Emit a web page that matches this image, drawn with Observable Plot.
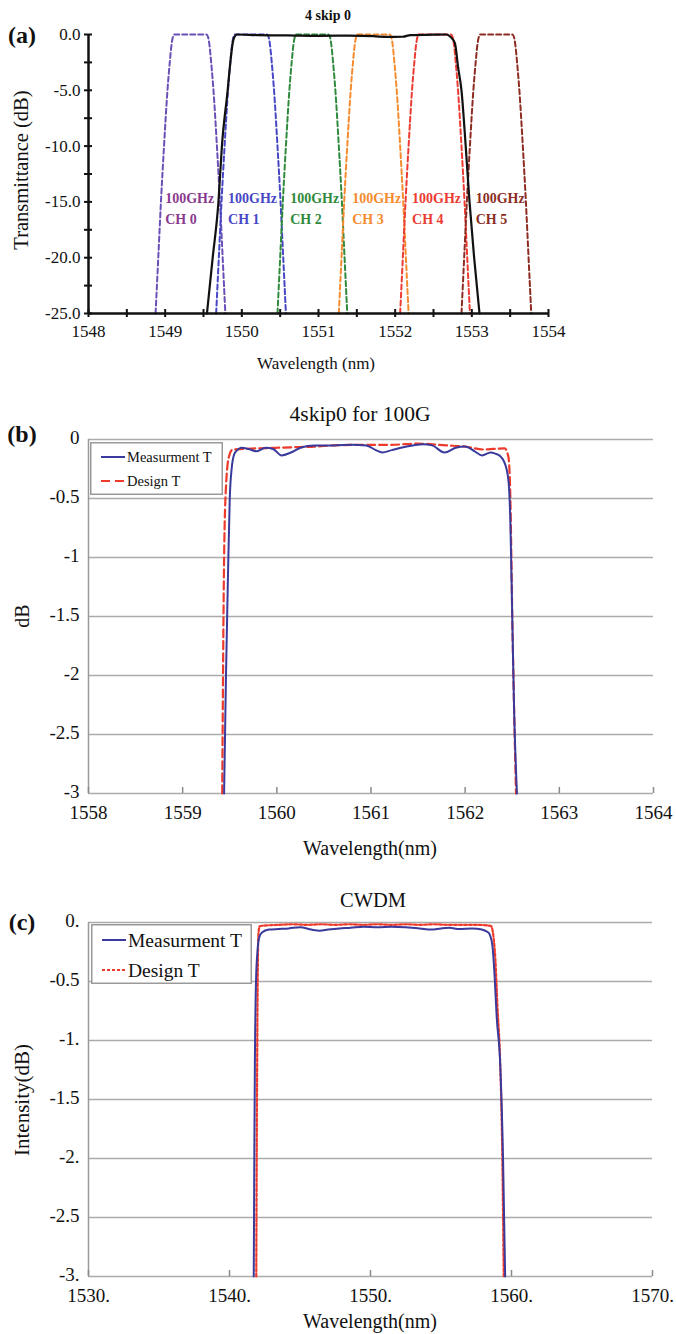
<!DOCTYPE html>
<html><head><meta charset="utf-8">
<script src="https://cdn.jsdelivr.net/npm/d3@7"></script>
<script src="https://cdn.jsdelivr.net/npm/@observablehq/plot@0.6"></script>
<style>
body{margin:0;background:#fff;}
#root{position:relative;width:676px;height:1334px;overflow:hidden;font-family:"Liberation Serif","Times New Roman",serif;color:#111;}
#root svg, #root svg text{font-family:"Liberation Serif","Times New Roman",serif !important;}
.abs{position:absolute;white-space:nowrap;line-height:1;}
.abs svg{display:block;}
</style></head>
<body><div id="root"></div>
<script>
// ---------- Panel (a) data ----------
const xTicksA = [1548,1548.5,1549,1549.5,1550,1550.5,1551,1551.5,1552,1552.5,1553,1553.5,1554];
const xLabelsA = [1548,1549,1550,1551,1552,1553,1554];
const yTicksA = [0,-2.5,-5,-7.5,-10,-12.5,-15,-17.5,-20,-22.5,-25];
const yLabelsA = [0,-5,-10,-15,-20,-25];
const chNames = ["CH 0","CH 1","CH 2","CH 3","CH 4","CH 5"];
const chLabelX = [1549.0,1549.82,1550.63,1551.44,1552.22,1553.05];
const chLevels = [-25,-20,-15,-10,-5,-2.5,-0.8,-0.2,0,0,-0.2,-0.8,-2.5,-5,-10,-15,-20,-25];
const ch0 = [1548.875,1548.91,1548.945,1548.985,1549.03,1549.06,1549.085,1549.102,1549.12,1549.54,1549.558,1549.575,1549.60,1549.63,1549.675,1549.715,1549.75,1549.785];
const ch1 = [1549.665,1549.70,1549.735,1549.775,1549.82,1549.85,1549.875,1549.892,1549.91,1550.33,1550.348,1550.365,1550.39,1550.42,1550.465,1550.505,1550.54,1550.575];
const ch2 = [1550.465,1550.50,1550.535,1550.575,1550.62,1550.65,1550.675,1550.692,1550.71,1551.13,1551.148,1551.165,1551.19,1551.22,1551.265,1551.305,1551.34,1551.375];
const ch3 = [1551.265,1551.30,1551.335,1551.375,1551.42,1551.45,1551.475,1551.492,1551.51,1551.93,1551.948,1551.965,1551.99,1552.02,1552.065,1552.105,1552.14,1552.175];
const ch4 = [1552.065,1552.10,1552.135,1552.175,1552.22,1552.25,1552.275,1552.292,1552.31,1552.73,1552.748,1552.765,1552.79,1552.82,1552.865,1552.905,1552.94,1552.975];
const ch5 = [1552.865,1552.90,1552.935,1552.975,1553.02,1553.05,1553.075,1553.092,1553.11,1553.53,1553.548,1553.565,1553.59,1553.62,1553.665,1553.705,1553.74,1553.775];
const skipWl = [1549.545,1549.62,1549.695,1549.74,1549.815,1549.85,1549.885,1549.91,1549.94,1550.2,1550.6,1551.0,1551.4,1551.72,1551.9,1552.1,1552.2,1552.5,1552.67,1552.72,1552.78,1552.82,1552.865,1552.92,1552.97,1553.03,1553.10];
const skipDb = [-25,-20,-15,-10,-5,-2.5,-0.6,-0.15,0,-0.05,-0.08,-0.12,-0.1,-0.15,-0.22,-0.2,-0.05,-0.02,0,-0.2,-0.8,-2.9,-5,-10,-15,-20,-25];
const chLineColors = ["#6a4fb6","#4747c6","#2f8a3c","#f58b2e","#ec3b31","#8c2c23"];
const chTextColors = ["#8a3a8e","#4747c6","#2f8a3c","#f58b2e","#ec3b31","#8c2c23"];

// ---------- Panel (b) data ----------
const xTicksB = [1558,1559,1560,1561,1562,1563,1564];
const yTicksB = [0,-0.5,-1,-1.5,-2,-2.5,-3];
const measBWl = [1559.44,1559.46,1559.48,1559.50,1559.52,1559.55,1559.58,1559.62,1559.70,1559.78,1559.88,1559.96,1560.05,1560.15,1560.25,1560.4,1560.6,1560.8,1560.95,1561.05,1561.12,1561.22,1561.38,1561.55,1561.65,1561.78,1561.9,1562.0,1562.1,1562.18,1562.27,1562.32,1562.37,1562.42,1562.46,1562.48,1562.50,1562.52,1562.55];
const measBDb = [-3,-2,-1.2,-0.5,-0.25,-0.12,-0.09,-0.07,-0.08,-0.1,-0.07,-0.08,-0.135,-0.11,-0.07,-0.05,-0.05,-0.045,-0.05,-0.09,-0.11,-0.09,-0.06,-0.04,-0.05,-0.11,-0.07,-0.06,-0.1,-0.135,-0.11,-0.12,-0.14,-0.2,-0.35,-0.7,-1.5,-2.3,-3];
const desBWl = [1559.42,1559.44,1559.46,1559.49,1559.53,1559.65,1559.8,1560.0,1560.2,1560.4,1560.6,1560.9,1561.2,1561.5,1561.8,1562.0,1562.2,1562.3,1562.42,1562.46,1562.48,1562.50,1562.52,1562.54];
const desBDb = [-3,-1,-0.4,-0.15,-0.085,-0.08,-0.075,-0.07,-0.065,-0.06,-0.05,-0.045,-0.045,-0.035,-0.05,-0.06,-0.085,-0.08,-0.075,-0.15,-0.5,-1.5,-2.3,-3];

// ---------- Panel (c) data ----------
const xTicksC = [1530,1540,1550,1560,1570];
const yTicksC = [0,-0.5,-1,-1.5,-2,-2.5,-3];
const measCWl = [1541.72,1541.76,1541.8,1541.88,1541.98,1542.1,1542.3,1542.8,1543.5,1544.2,1545.0,1545.8,1546.4,1547.0,1547.8,1548.6,1549.5,1550.5,1551.5,1552.5,1553.5,1554.3,1555.0,1555.6,1556.3,1557.2,1557.9,1558.3,1558.45,1558.65,1558.8,1558.95,1559.2,1559.4,1559.55];
const measCDb = [-3,-2,-1.2,-0.5,-0.25,-0.13,-0.085,-0.06,-0.055,-0.05,-0.04,-0.06,-0.07,-0.06,-0.05,-0.045,-0.035,-0.04,-0.035,-0.04,-0.05,-0.06,-0.05,-0.045,-0.055,-0.05,-0.06,-0.08,-0.1,-0.2,-0.45,-0.8,-1.2,-2,-3];
const desCWl = [1541.9,1541.95,1542.0,1542.05,1542.15,1542.6,1543.5,1544.5,1545.5,1546.5,1547.5,1548.5,1549.5,1550.5,1551.5,1552.5,1553.5,1554.5,1555.5,1556.5,1557.5,1558.3,1558.55,1558.7,1558.85,1559.0,1559.2,1559.35,1559.45];
const desCDb = [-3,-1.5,-0.5,-0.1,-0.03,-0.025,-0.02,-0.015,-0.02,-0.015,-0.02,-0.015,-0.02,-0.015,-0.02,-0.015,-0.02,-0.015,-0.02,-0.02,-0.02,-0.025,-0.03,-0.1,-0.3,-0.7,-1.2,-2,-3];

// ---------- helpers ----------
const root = document.getElementById("root");
const FONT = "'Liberation Serif','Times New Roman',serif";
function place(node, left, top) {
  const d = document.createElement("div");
  d.className = "abs"; d.style.left = left + "px"; d.style.top = top + "px";
  d.appendChild(node); root.appendChild(d); return d;
}
function label(text, cx, cy, size, opts = {}) {
  const d = document.createElement("div");
  d.className = "abs"; d.textContent = text;
  d.style.left = cx + "px"; d.style.top = cy + "px";
  d.style.fontSize = size + "px";
  d.style.fontWeight = opts.bold ? "bold" : "normal";
  d.style.transform = "translate(-50%,-50%)" + (opts.rotate ? " rotate(-90deg)" : "");
  root.appendChild(d); return d;
}
const pts = (xs, ys) => xs.map((x, i) => ({x, y: ys[i]}));

// ---------- Panel (a) ----------
{
  const W = 676, H = 390, mL = 88, mR = 128, mT = 34, mB = 77;
  const iw = W - mL - mR, ih = H - mT - mB;
  const chans = [ch0, ch1, ch2, ch3, ch4, ch5];
  const marks = [];
  chans.forEach((wl, i) => {
    marks.push(Plot.line(pts(wl, chLevels), {x: "x", y: "y", stroke: chLineColors[i], strokeWidth: 2, strokeDasharray: "5,3", curve: "monotone-x"}));
  });
  marks.push(Plot.line(pts(skipWl, skipDb), {x: "x", y: "y", stroke: "#111", strokeWidth: 2.2, curve: "monotone-x"}));
  chNames.forEach((n, i) => {
    marks.push(Plot.text([n], {x: chLabelX[i], y: -15.4, text: d => "100GHz\n" + d, textAnchor: "start", lineHeight: 1.5, fill: chTextColors[i], fontWeight: "bold", fontSize: 14, fontFamily: FONT}));
  });
  marks.push(
    Plot.ruleX([1548], {stroke: "#111", strokeWidth: 2.5}),
    Plot.ruleY([-25], {stroke: "#111", strokeWidth: 2.5}),
    Plot.ruleX(xTicksA, {x: d => d, stroke: "#111", strokeWidth: 2, insetTop: ih - 4, insetBottom: -4}),
    Plot.ruleY(yTicksA, {y: d => d, stroke: "#111", strokeWidth: 2, insetLeft: -4, insetRight: iw - 4}),
    Plot.axisX(xLabelsA, {tickSize: 0, tickPadding: 11, label: null, fontSize: 17, fontFamily: FONT, tickFormat: d => String(d)}),
    Plot.axisY(yLabelsA, {tickSize: 0, tickPadding: 8, label: null, fontSize: 17, fontFamily: FONT, tickFormat: d => d.toFixed(1)})
  );
  const p = Plot.plot({
    width: W, height: H, marginLeft: mL, marginRight: mR, marginTop: mT, marginBottom: mB,
    x: {domain: [1548, 1554]}, y: {domain: [-25, 0]},
    style: {fontFamily: FONT, color: "#111", background: "transparent", overflow: "visible"},
    marks
  });
  place(p, 0, 0);
  label("4 skip 0", 328, 16, 14, {bold: true});
  label("(a)", 22, 35, 24, {bold: true});
  label("Transmittance (dB)", 21, 170, 20.5, {rotate: true});
  label("Wavelength (nm)", 316, 363, 17);
}

// legend helper
function legend(left, top, w, h, size, rows) {
  const ns = "http://www.w3.org/2000/svg";
  const svg = document.createElementNS(ns, "svg");
  svg.setAttribute("width", w); svg.setAttribute("height", h);
  let html = `<rect x="0.75" y="0.75" width="${w - 1.5}" height="${h - 1.5}" fill="#fff" stroke="#9a9a9a" stroke-width="1.5"/>`;
  rows.forEach(r => {
    html += `<line x1="11" x2="35" y1="${r.y}" y2="${r.y}" stroke="${r.color}" stroke-width="2" ${r.dash ? `stroke-dasharray="${r.dash}"` : ""}/>`;
    html += `<text x="37" y="${r.y}" dy="0.35em" font-size="${size}" fill="#111">${r.text}</text>`;
  });
  svg.innerHTML = html;
  place(svg, left, top);
}

// ---------- Panel (b) ----------
{
  const top = 390, W = 676, H = 460, mL = 88, mR = 23, mT = 49, mB = 57;
  const ih = H - mT - mB;
  const p = Plot.plot({
    width: W, height: H, marginLeft: mL, marginRight: mR, marginTop: mT, marginBottom: mB,
    x: {domain: [1558, 1564]}, y: {domain: [-3, 0]},
    style: {fontFamily: FONT, color: "#111", background: "transparent", overflow: "visible"},
    marks: [
      Plot.ruleY(yTicksB, {y: d => d, stroke: "#ababab", strokeWidth: 1.5}),
      Plot.ruleX([1558], {stroke: "#9a9a9a", strokeWidth: 1.5}),
      Plot.ruleX(xTicksB, {x: d => d, stroke: "#8a8a8a", strokeWidth: 1.5, insetTop: ih - 6}),
      Plot.line(pts(desBWl, desBDb), {x: "x", y: "y", stroke: "#ec3a2b", strokeWidth: 2.2, strokeDasharray: "8,4", curve: "monotone-x"}),
      Plot.line(pts(measBWl, measBDb), {x: "x", y: "y", stroke: "#3a3a9c", strokeWidth: 2, curve: "monotone-x"}),
      Plot.axisX(xTicksB, {tickSize: 0, tickPadding: 12, label: null, fontSize: 19, fontFamily: FONT, tickFormat: d => String(d)}),
      Plot.axisY(yTicksB, {tickSize: 0, tickPadding: 9, label: null, fontSize: 19, fontFamily: FONT, dy: -2, tickFormat: d => String(d)})
    ]
  });
  place(p, 0, top);
  legend(90, 442, 133, 53, 14.5, [
    {y: 15, color: "#3a3a9c", text: "Measurment T"},
    {y: 39, color: "#ec3a2b", dash: "9,5", text: "Design T"}
  ]);
  label("4skip0 for 100G", 360, 415, 21.5);
  label("(b)", 22, 434, 24, {bold: true});
  label("dB", 22, 616, 20, {rotate: true});
  label("Wavelength(nm)", 370, 848, 20);
}

// ---------- Panel (c) ----------
{
  const top = 860, W = 676, H = 474, mL = 88, mR = 24, mT = 62, mB = 58;
  const ih = H - mT - mB;
  const fmt = d => Number.isInteger(d) ? (d === 0 ? "0" : String(d)) + "." : String(d);
  const p = Plot.plot({
    width: W, height: H, marginLeft: mL, marginRight: mR, marginTop: mT, marginBottom: mB,
    x: {domain: [1530, 1570]}, y: {domain: [-3, 0]},
    style: {fontFamily: FONT, color: "#111", background: "transparent", overflow: "visible"},
    marks: [
      Plot.ruleY(yTicksC, {y: d => d, stroke: "#ababab", strokeWidth: 1.5}),
      Plot.ruleX([1530], {stroke: "#9a9a9a", strokeWidth: 1.5}),
      Plot.ruleX(xTicksC, {x: d => d, stroke: "#8a8a8a", strokeWidth: 1.5, insetTop: ih - 6}),
      Plot.line(pts(desCWl, desCDb), {x: "x", y: "y", stroke: "#ee3b2c", strokeWidth: 2.2, strokeDasharray: "3,2", curve: "monotone-x"}),
      Plot.line(pts(measCWl, measCDb), {x: "x", y: "y", stroke: "#3a3a9c", strokeWidth: 2, curve: "monotone-x"}),
      Plot.axisX(xTicksC, {tickSize: 0, tickPadding: 12, label: null, fontSize: 19, fontFamily: FONT, tickFormat: fmt}),
      Plot.axisY(yTicksC, {tickSize: 0, tickPadding: 9, label: null, fontSize: 19, fontFamily: FONT, dy: -2, tickFormat: fmt})
    ]
  });
  place(p, 0, top);
  legend(91, 924, 161, 60, 19.5, [
    {y: 16, color: "#3a3a9c", text: "Measurment T"},
    {y: 46, color: "#ee3b2c", dash: "3,2", text: "Design T"}
  ]);
  label("CWDM", 373, 900, 20.5);
  label("(c)", 22, 922, 24, {bold: true});
  label("Intensity(dB)", 22, 1100, 21, {rotate: true});
  label("Wavelength(nm)", 370, 1321, 20);
}
</script></body></html>
